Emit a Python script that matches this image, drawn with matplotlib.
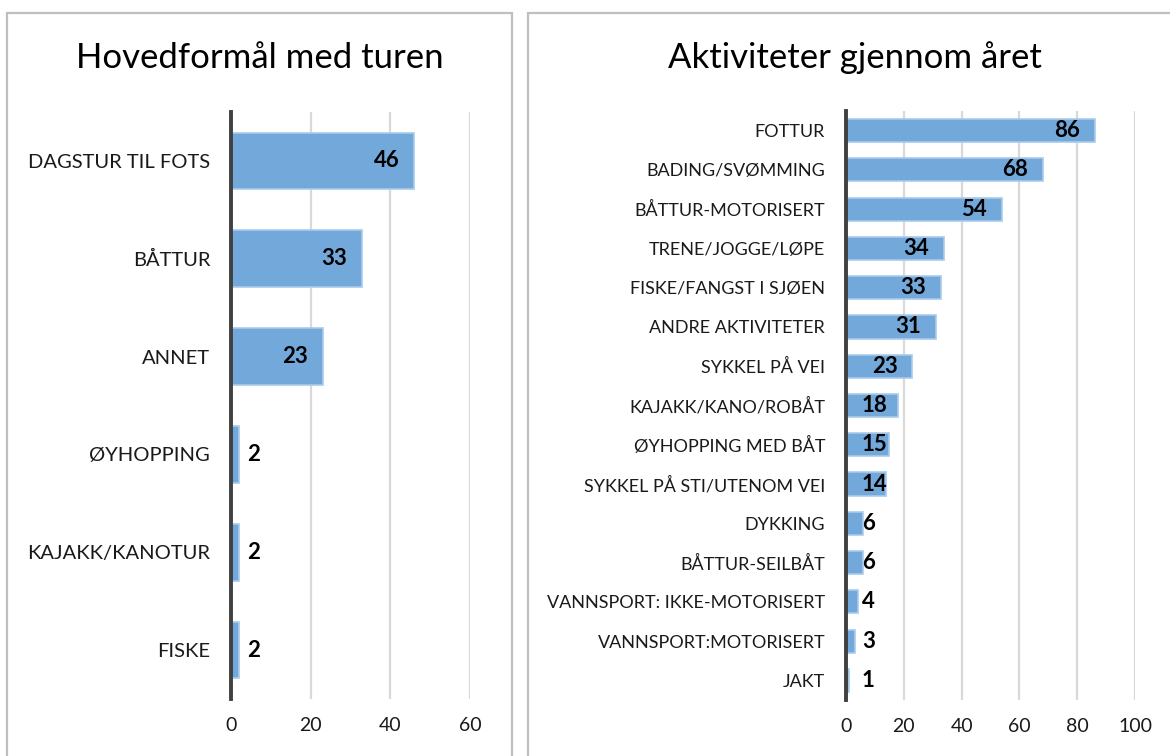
import matplotlib
matplotlib.use("Agg")
import matplotlib.pyplot as plt
from matplotlib.patches import Rectangle

plt.rcParams["font.family"] = ["Lato", "DejaVu Sans"]

W, H = 1170, 756

# left panel data
purpose_labels = ["DAGSTUR TIL FOTS", "BÅTTUR", "ANNET", "ØYHOPPING", "KAJAKK/KANOTUR", "FISKE"]
purpose_values = [46, 33, 23, 2, 2, 2]
purpose_ticks = [0, 20, 40, 60]

# right panel data
activity_labels = [
    "FOTTUR", "BADING/SVØMMING", "BÅTTUR-MOTORISERT", "TRENE/JOGGE/LØPE",
    "FISKE/FANGST I SJØEN", "ANDRE AKTIVITETER", "SYKKEL PÅ VEI",
    "KAJAKK/KANO/ROBÅT", "ØYHOPPING MED BÅT", "SYKKEL PÅ STI/UTENOM VEI",
    "DYKKING", "BÅTTUR-SEILBÅT", "VANNSPORT: IKKE-MOTORISERT",
    "VANNSPORT:MOTORISERT", "JAKT",
]
activity_values = [86, 68, 54, 34, 33, 31, 23, 18, 15, 14, 6, 6, 4, 3, 1]
activity_ticks = [0, 20, 40, 60, 80, 100]

BAR_COLOR = "#72A8DA"
BAR_EDGE = "#A8CCEC"
GRID_COLOR = "#D9D9D9"
SPINE_COLOR = "#404040"


def draw_panel(ax, labels, values, ticks, bar_height, label_size):
    y = list(range(len(labels)))
    ax.barh(y, values, height=bar_height, color=BAR_COLOR,
            edgecolor=BAR_EDGE, linewidth=1.2, zorder=3)
    ax.set_xlim(ticks[0], ticks[-1])
    ax.set_ylim(len(labels) - 0.5, -0.5)
    ax.set_yticks(y)
    ax.set_yticklabels(labels, fontsize=label_size, color="#1a1a1a")
    ax.set_xticks(ticks)
    ax.set_xticklabels([str(t) for t in ticks], fontsize=14, color="#1a1a1a")
    ax.tick_params(axis="both", length=0)
    ax.tick_params(axis="x", pad=13)
    ax.tick_params(axis="y", pad=15)
    ax.grid(axis="x", color=GRID_COLOR, linewidth=1.6, zorder=0)
    ax.set_axisbelow(True)
    for side in ["top", "right", "bottom"]:
        ax.spines[side].set_visible(False)
    ax.spines["left"].set_color(SPINE_COLOR)
    ax.spines["left"].set_linewidth(2.8)
    ax.spines["left"].set_zorder(5)

    # value labels: inside the bar end, or just past the axis for short bars
    fig = ax.figure
    renderer = fig.canvas.get_renderer()
    for yi, v in zip(y, values):
        bar_px = ax.transData.transform((v, 0))[0] - ax.transData.transform((0, 0))[0]
        t = ax.annotate(str(v), (v, yi), xytext=(-15, 0), textcoords="offset pixels",
                        ha="right", va="center", fontsize=16, fontweight="bold",
                        color="black", zorder=6)
        w = t.get_window_extent(renderer).width
        if bar_px - 15 - w < 16:
            t.remove()
            ax.annotate(str(v), (0, yi), xytext=(16, 0), textcoords="offset pixels",
                        ha="left", va="center", fontsize=16, fontweight="bold",
                        color="black", zorder=6)


fig = plt.figure(figsize=(W / 100, H / 100), dpi=100)

# panel frames
for x0, x1 in [(7, 512), (528, 1180)]:
    fig.add_artist(Rectangle((x0 / W, 0 - 0.01), (x1 - x0) / W, (H - 13) / H + 0.01,
                             transform=fig.transFigure, fill=False,
                             edgecolor="#BFBFBF", linewidth=1.6, clip_on=False))

ax1 = fig.add_axes([231 / W, (H - 699) / H, (470 - 231) / W, (699 - 112) / H])
ax2 = fig.add_axes([846 / W, (H - 700) / H, (1135 - 846) / W, (700 - 111) / H])

fig.canvas.draw()
draw_panel(ax1, purpose_labels, purpose_values, purpose_ticks, 0.58, 14.5)
draw_panel(ax2, activity_labels, activity_values, activity_ticks, 0.59, 13)

fig.text(260 / W, 1 - 58 / H, "Hovedformål med turen", ha="center", va="center",
         fontsize=25, color="black")
fig.text(855 / W, 1 - 58 / H, "Aktiviteter gjennom året", ha="center", va="center",
         fontsize=25, color="black")

fig.savefig("out.png", dpi=100)
